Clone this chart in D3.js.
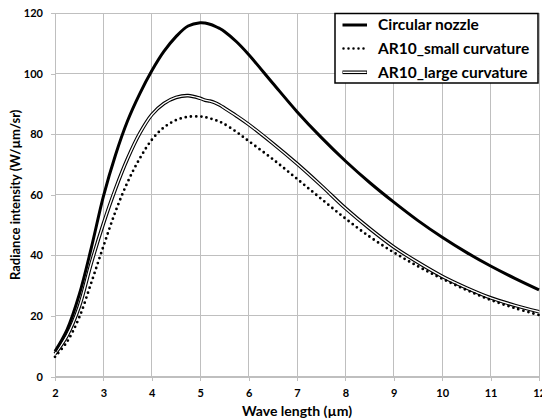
<!DOCTYPE html>
<html><head><meta charset="utf-8">
<script src="https://cdn.jsdelivr.net/npm/d3@7"></script>
<style>
body{margin:0;background:#fff}
svg{display:block}
text{font-family:Lato, "Open Sans", sans-serif;font-weight:bold;fill:#000}
</style>
</head><body>
<svg id="chart" width="542" height="420"></svg>
<script>
const wavelengths = [2, 2.25, 2.5, 2.75, 3, 3.25, 3.5, 3.75, 4, 4.25, 4.5, 4.75, 5, 5.1, 5.2, 5.3, 5.4, 5.5, 5.75, 6, 6.5, 7, 7.5, 8, 8.5, 9, 9.5, 10, 10.5, 11, 11.5, 12];
const circularNozzle = [8.3, 15.5, 27, 42.5, 59.5, 73.2, 84.5, 93.4, 101, 107.4, 112.3, 115.8, 116.9, 116.8, 116.4, 115.8, 115, 114, 110.6, 106.4, 96.9, 87.5, 79, 71.2, 64.1, 57.6, 51.5, 46, 41, 36.5, 32.4, 28.6];
const smallCurvature = [6.5, 11.5, 19.5, 31, 43, 54.5, 64.2, 72, 78.2, 82.3, 84.7, 85.8, 85.9, 85.7, 85.3, 84.8, 84.2, 83.4, 80.8, 77.8, 71.8, 65.3, 58.7, 52.2, 46.2, 41, 36.4, 32.3, 28.6, 25.3, 22.6, 20.3];
const largeCurvature = [7.5, 13.5, 23, 37.5, 50.5, 62, 72, 80.3, 86.5, 90.2, 92.2, 92.8, 91.9, 91.3, 91, 90.5, 89.7, 88.7, 86.1, 83.3, 77, 70.3, 63.1, 55.6, 48.9, 42.8, 37.7, 33.1, 29.3, 26, 23.5, 21.4];
const seriesNames = ["Circular nozzle", "AR10_small curvature", "AR10_large curvature"];
const xTicks = [2, 3, 4, 5, 6, 7, 8, 9, 10, 11, 12];
const yTicks = [0, 20, 40, 60, 80, 100, 120];
const xTitle = "Wave length (µm)";
const yTitle = "Radiance intensity (W/µm/sr)";

const svg = d3.select("#chart");
const L = 55, R = 539, T = 13.3, B = 376.5;
const x = d3.scaleLinear().domain([2, 12]).range([L, R]);
const y = d3.scaleLinear().domain([0, 120]).range([B, T]);
const grid = "#bfbfbf";

// gridlines
svg.append("g").selectAll("line").data(yTicks).join("line")
  .attr("x1", L).attr("x2", R).attr("y1", d => y(d)).attr("y2", d => y(d))
  .attr("stroke", grid).attr("stroke-width", 1).attr("shape-rendering", "crispEdges");
svg.append("g").selectAll("line").data(xTicks).join("line")
  .attr("x1", d => x(d)).attr("x2", d => x(d)).attr("y1", T).attr("y2", B)
  .attr("stroke", grid).attr("stroke-width", 1).attr("shape-rendering", "crispEdges");

// axes
const yAxis = svg.append("g").attr("transform", `translate(${L},0)`)
  .call(d3.axisLeft(y).tickValues(yTicks).tickSize(4).tickPadding(8).tickFormat(d3.format("d")));
const xAxis = svg.append("g").attr("transform", `translate(0,${B})`)
  .call(d3.axisBottom(x).tickValues(xTicks).tickSize(4).tickPadding(9).tickFormat(d3.format("d")));
[yAxis, xAxis].forEach(a => {
  a.select(".domain").attr("stroke", grid).attr("shape-rendering", "crispEdges");
  a.selectAll(".tick line").attr("stroke", grid).attr("shape-rendering", "crispEdges");
  a.selectAll("text").style("font-family", "Lato, sans-serif").style("font-weight", "bold").style("font-size", "11px").attr("fill", "#000");
});

// axis titles
svg.append("text").attr("x", (L + R) / 2).attr("y", 416).attr("text-anchor", "middle")
  .style("font-size", "14px").text(xTitle);
svg.append("text").attr("transform", `translate(20,${(T + B) / 2}) rotate(-90)`).attr("text-anchor", "middle")
  .style("font-size", "13px").text(yTitle);

// lines
const mk = vals => wavelengths.map((w, i) => [w, vals[i]]);
const line = d3.line().x(d => x(d[0])).y(d => y(d[1])).curve(d3.curveCatmullRom.alpha(0.5));
const g = svg.append("g");
// large curvature: double line
g.append("path").attr("d", line(mk(largeCurvature))).attr("fill", "none").attr("stroke", "#000").attr("stroke-width", 3.6);
g.append("path").attr("d", line(mk(largeCurvature))).attr("fill", "none").attr("stroke", "#fff").attr("stroke-width", 1.4);
// small curvature: dotted
g.append("path").attr("d", line(mk(smallCurvature))).attr("fill", "none").attr("stroke", "#000")
  .attr("stroke-width", 2.8).attr("stroke-linecap", "round").attr("stroke-dasharray", "0 5.2");
// circular: thick solid
g.append("path").attr("d", line(mk(circularNozzle))).attr("fill", "none").attr("stroke", "#000").attr("stroke-width", 3);

// legend
const lg = svg.append("g");
lg.append("rect").attr("x", 335).attr("y", 13.5).attr("width", 203).attr("height", 69.5)
  .attr("fill", "#fff").attr("stroke", "#000").attr("stroke-width", 1.5);
const rows = [25, 48.5, 72.3];
const lx1 = 342.5, lx2 = 367;
lg.append("line").attr("x1", lx1).attr("x2", lx2).attr("y1", rows[0]).attr("y2", rows[0]).attr("stroke", "#000").attr("stroke-width", 3);
lg.append("line").attr("x1", lx1 + 1).attr("x2", lx2).attr("y1", rows[1]).attr("y2", rows[1]).attr("stroke", "#000")
  .attr("stroke-width", 2.5).attr("stroke-linecap", "round").attr("stroke-dasharray", "0 5");
lg.append("line").attr("x1", lx1).attr("x2", lx2).attr("y1", rows[2]).attr("y2", rows[2]).attr("stroke", "#000").attr("stroke-width", 3.6);
lg.append("line").attr("x1", lx1 + 0.5).attr("x2", lx2 - 0.5).attr("y1", rows[2]).attr("y2", rows[2]).attr("stroke", "#fff").attr("stroke-width", 1.4);
lg.selectAll("text.leg").data(seriesNames).join("text").attr("class", "leg")
  .attr("x", 378).attr("y", (d, i) => rows[i]).attr("dy", "0.35em")
  .style("font-size", "15.5px").text(d => d);
</script>
</body></html>
